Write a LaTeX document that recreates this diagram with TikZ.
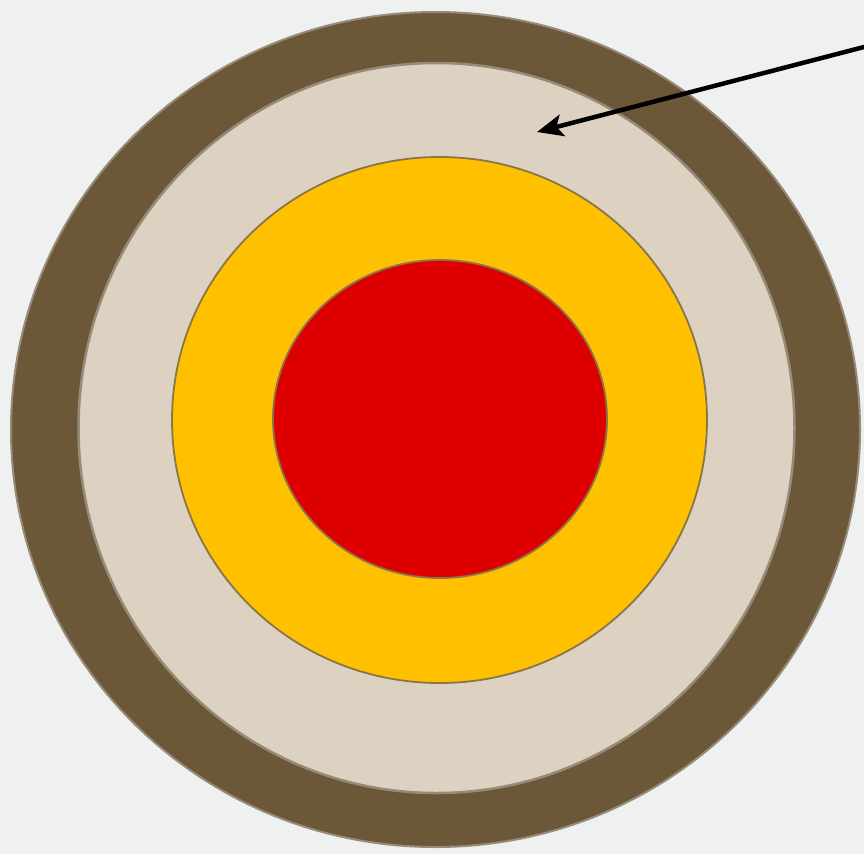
\documentclass[tikz,border=0pt]{standalone}
\usetikzlibrary{shapes.geometric,arrows.meta}
\definecolor{bgc}{HTML}{EFF0F0}
\definecolor{ringbrown}{HTML}{6C5738}
\definecolor{ringbeige}{HTML}{DDD2C1}
\definecolor{ringyellow}{HTML}{FFC000}
\definecolor{ringred}{HTML}{DE0000}
\definecolor{edgec}{HTML}{8A7548}
\definecolor{rimc}{HTML}{968A78}
\tikzset{
  ring/.style={ellipse, inner sep=0pt, outer sep=0pt, draw=edgec, line width=1.8pt},
  pointer/.style={line width=4.5pt, black, -{Stealth[length=26pt,width=22pt,inset=6pt]}, shorten <=-2pt}
}
\begin{document}
\begin{tikzpicture}[x=1pt,y=-1pt]
\fill[bgc] (0,0) rectangle (864,854);
\useasboundingbox (0,0) rectangle (864,854);
\node[ring, draw=rimc, line width=2pt, fill=ringbrown, minimum width=849pt, minimum height=835pt] (outer) at (435.5,429.5) {};
\node[ring, draw=rimc, line width=2.5pt, fill=ringbeige, minimum width=716pt, minimum height=730pt] (beige) at (436.5,428) {};
\node[ring, fill=ringyellow, minimum width=535pt, minimum height=526pt] (yellow) at (439.5,420) {};
\node[ring, fill=ringred, minimum width=334pt, minimum height=318pt] (red) at (440,419) {};
\coordinate (tail) at (864,47);
\coordinate (tip) at (537,132);
\draw[pointer] (tail) -- (tip);
\end{tikzpicture}
\end{document}
